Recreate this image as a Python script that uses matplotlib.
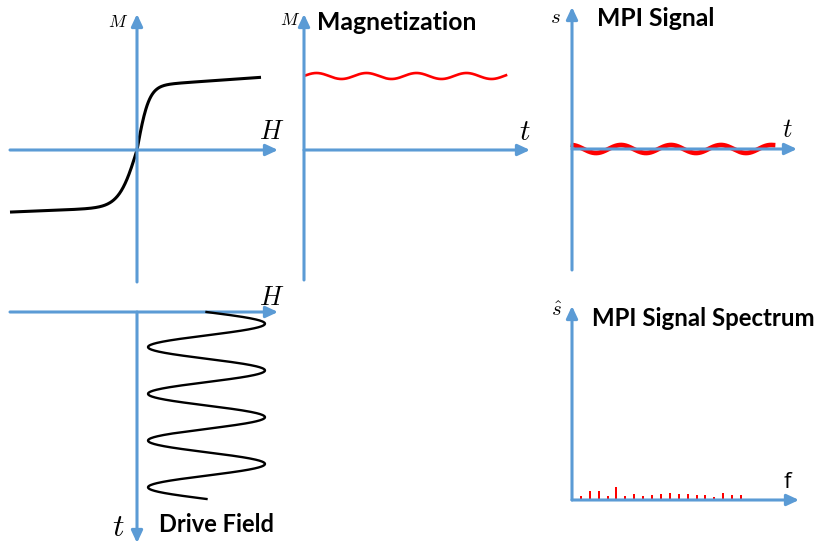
import matplotlib.pyplot as plt
import numpy as np

plt.rcParams['mathtext.fontset'] = 'cm'

BLUE = '#5B9BD5'
RED = '#FF0000'
TITLE_FONT = 'Lato'

# Magnetization curve M(H): saturating branches with a slow linear rise
H_field = np.linspace(-127, 124, 400)
sat_upper, width_upper, slope_upper = 64, 12, 0.07
sat_lower, width_lower, slope_lower = 57, 18, 0.04

# Drive field H(t): offset sine, four periods
drive_offset, drive_amp, drive_period, drive_cycles = 69.5, 58.5, 46.75, 4

# Magnetization over time: small ripple near saturation
mag_level, mag_ripple, mag_period = 74, 3, 50
t_mag = np.linspace(2, 202, 400)
signal_gain = 10.6

# Spectrum line heights at harmonics 1..19
harmonics = np.arange(1, 20)
spectrum = [4, 8.7, 8.7, 4, 12.7, 4, 6, 4, 5.4, 6, 7.4, 6, 6, 5, 5, 2.7, 7.4, 5, 5]


def magnetization(h):
    upper = sat_upper * np.tanh(h / width_upper) + slope_upper * h
    lower = sat_lower * np.tanh(h / width_lower) + slope_lower * h
    return np.where(h >= 0, upper, lower)


fig = plt.figure(figsize=(8.23, 5.46), dpi=100)
ax = fig.add_axes([0, 0, 1, 1])
ax.set_xlim(0, 823)
ax.set_ylim(546, 0)
ax.axis('off')


def arrow(x0, y0, x1, y1):
    ax.annotate('', xy=(x1, y1), xytext=(x0, y0),
                arrowprops=dict(arrowstyle='-|>,head_length=0.9,head_width=0.42',
                                mutation_scale=8, color=BLUE, lw=2.2,
                                shrinkA=0, shrinkB=0), zorder=3)


def title(x, y, s, size=17.8):
    ax.text(x, y, s, fontsize=size, fontweight='bold', family=TITLE_FONT,
            ha='left', va='center')


def math(x, y, s, size):
    ax.text(x, y, s, fontsize=size, ha='center', va='center')


# M vs H
ox, oy = 137, 150
arrow(10, oy, 278, oy)
arrow(ox, 282, ox, 14)
ax.plot(ox + H_field, oy - magnetization(H_field), color='black', lw=2.2,
        solid_capstyle='butt')
math(118, 22, r'$M$', 12.5)
math(272, 132, r'$H$', 19)

# M vs t
ox, oy = 304, 150
arrow(ox, 280, ox, 14)
arrow(ox, oy, 530, oy)
M_t = mag_level + mag_ripple * np.sin(2 * np.pi * t_mag / mag_period)
ax.plot(ox + t_mag, oy - M_t, color=RED, lw=1.9)
math(290, 20, r'$M$', 12.5)
math(525, 132, r'$t$', 21)
title(317, 23, 'Magnetization')

# induced signal s = dM/dt
ox, oy = 572, 149
arrow(ox, 270, ox, 7)
arrow(ox, oy, 797, oy)
s_t = np.gradient(M_t, t_mag) * signal_gain
ax.plot(ox + t_mag - 1, oy - s_t, color=RED, lw=3.4, zorder=2)
math(555, 17, r'$s$', 15)
math(787, 130, r'$t$', 19)
title(597, 19, 'MPI Signal')

# drive field, time running downward
ox, oy = 137, 312
arrow(10, oy, 278, oy)
arrow(ox, oy, ox, 543)
tau = np.linspace(0, drive_period * drive_cycles, 600)
H_t = drive_offset + drive_amp * np.sin(2 * np.pi * tau / drive_period)
ax.plot(ox + H_t, oy + tau, color='black', lw=1.7, zorder=4)
math(272, 298, r'$H$', 19)
math(118, 527, r'$t$', 23)
title(159, 525, 'Drive Field', 17)

# spectrum
ox, oy = 572, 500
arrow(ox, oy, ox, 306)
arrow(ox, oy, 799, oy)
ax.bar(ox + 8.9 * harmonics, -np.array(spectrum), bottom=oy, width=2,
       color=RED, zorder=2)
math(557, 310, r'$\hat{s}$', 15)
ax.text(787, 483, 'f', fontsize=16, family='Open Sans', ha='center', va='center')
title(592, 318, 'MPI Signal Spectrum', 17.3)

fig.savefig('out.png', dpi=100)
